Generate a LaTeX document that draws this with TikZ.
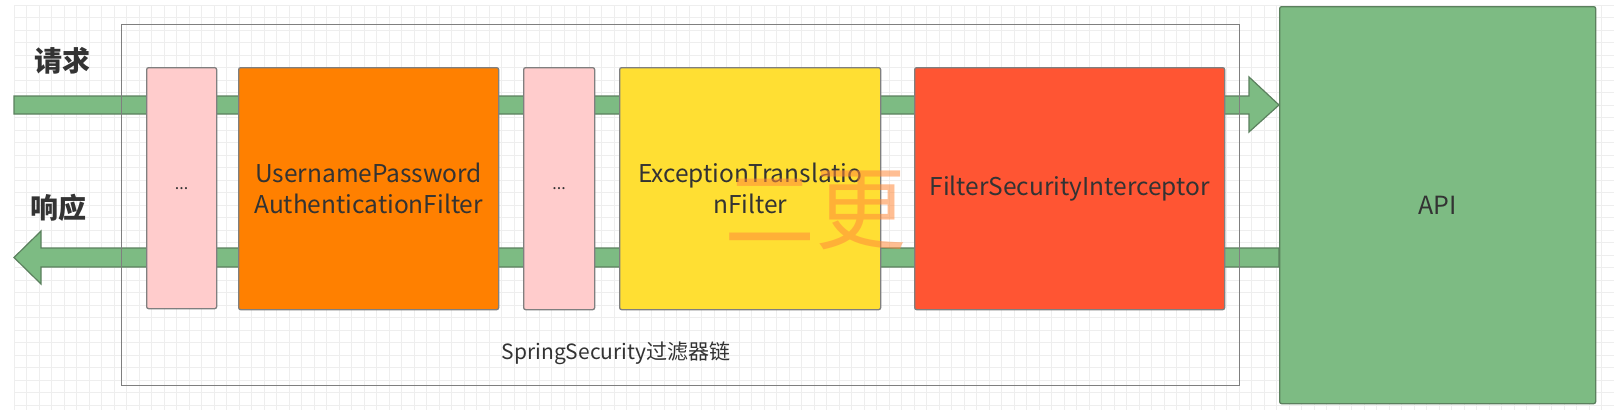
\documentclass[tikz,border=0pt]{standalone}
\usepackage{fontspec}
\setmainfont{Noto Sans CJK SC}
\usetikzlibrary{calc}
\definecolor{flowgreen}{HTML}{7DBB83}
\definecolor{flowgreenline}{HTML}{5B805E}
\definecolor{pinkfill}{HTML}{FFCCCC}
\definecolor{orangefill}{HTML}{FF8000}
\definecolor{yellowfill}{HTML}{FFDF33}
\definecolor{redfill}{HTML}{FF5533}
\definecolor{boxline}{HTML}{7F7F7F}
\definecolor{txt}{HTML}{333333}
\definecolor{gridc}{HTML}{EEEEEE}
\definecolor{wm}{HTML}{FF8A3C}
\tikzset{
  box/.style={draw=boxline, line width=1.3pt, rounded corners=2pt, inner sep=0pt, anchor=north west},
  boxtext/.style={text=txt, align=center, font=\fontsize{24.5}{31}\selectfont},
  flowarrow/.style={fill=flowgreen, draw=flowgreenline, line width=1.2pt, line join=miter},
  gridline/.style={draw=gridc, line width=0.6pt},
}
\begin{document}
\begin{tikzpicture}[x=1pt,y=-1pt]
\useasboundingbox (0,0) rectangle (1614,415);
\fill[white] (0,0) rectangle (1614,415);
% background grid
\foreach \i in {0,...,128} {\draw[gridline] ({14+12.5*\i},5) -- ({14+12.5*\i},410);}
\foreach \j in {0,...,32} {\draw[gridline] (14,{5+12.5*\j}) -- (1614,{5+12.5*\j});}

% API box
\node[box, fill=flowgreen, draw=flowgreenline, minimum width=316pt, minimum height=397pt] (api) at (1279,6) {};
\node[text=txt, font=\fontsize{25}{30}\selectfont] (apitext) at (api.center) {API};

% flow arrows
\coordinate (reqS) at (14,105);
\coordinate (reqE) at (api.west |- reqS);
\draw[flowarrow] ($(reqS)+(0,-9)$) -- ($(reqE)+(-30,-9)$) -- ($(reqE)+(-30,-28)$) -- (reqE)
   -- ($(reqE)+(-30,27)$) -- ($(reqE)+(-30,9)$) -- ($(reqS)+(0,9)$) -- cycle;
\coordinate (resS) at (api.west |- 0,257.5);
\coordinate (resE) at (14,257.5);
\draw[flowarrow] ($(resS)+(0,-9.5)$) -- ($(resE)+(27,-9.5)$) -- ($(resE)+(27,-26.5)$) -- (resE)
   -- ($(resE)+(27,26.5)$) -- ($(resE)+(27,9.5)$) -- ($(resS)+(0,9.5)$) -- cycle;

% container
\node[draw=boxline, line width=1.3pt, inner sep=0pt, anchor=north west, minimum width=1118pt, minimum height=361pt] (chain) at (121,24) {};
\node[text=txt, font=\fontsize{21}{25}\selectfont] (chainlabel) at (616,353) {SpringSecurity过滤器链};

% filters
\node[box, fill=pinkfill, minimum width=70pt, minimum height=241pt] (p1) at (146,67) {};
\node[box, fill=orangefill, minimum width=260pt, minimum height=242pt] (f1) at (238,67) {};
\node[box, fill=pinkfill, minimum width=71pt, minimum height=242pt] (p2) at (523,67) {};
\node[box, fill=yellowfill, minimum width=261pt, minimum height=242pt] (f2) at (619,67) {};
\node[box, fill=redfill, minimum width=310pt, minimum height=242pt] (f3) at (914,67) {};

\node[text=txt, font=\fontsize{16}{20}\selectfont] (p1t) at (p1.center) {...};
\node[text=txt, font=\fontsize{16}{20}\selectfont] (p2t) at (p2.center) {...};
\node[boxtext] (f1t) at (f1.center) {UsernamePassword\\AuthenticationFilter};
\node[boxtext] (f2t) at (f2.center) {ExceptionTranslatio\\nFilter};
\node[boxtext] (f3t) at (f3.center) {FilterSecurityInterceptor};

% side labels
\node[text=txt, font=\fontsize{28}{32}\selectfont\bfseries] (req) at (62,61) {请求};
\node[text=txt, font=\fontsize{28}{32}\selectfont\bfseries] (res) at (58,208) {响应};

% watermark
\node[text=wm, opacity=0.55, font=\fontsize{91}{95}\selectfont] (wmark) at (815,210) {二更};
\end{tikzpicture}
\end{document}
